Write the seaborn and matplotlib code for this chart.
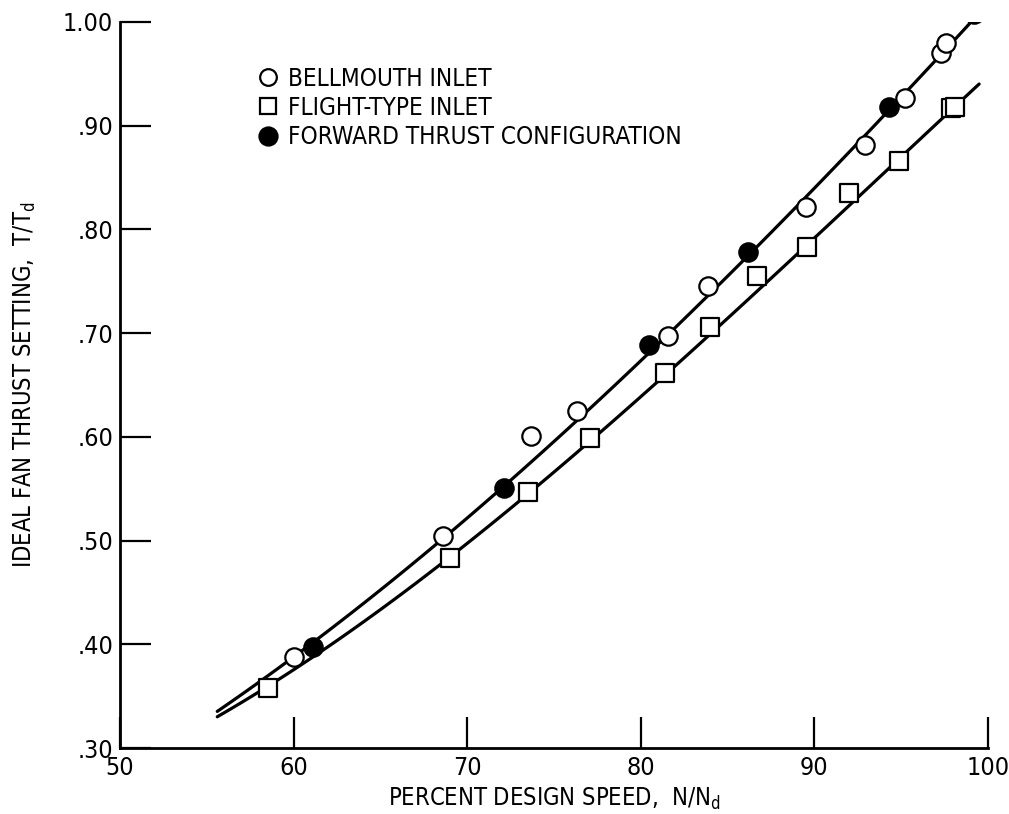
import matplotlib
matplotlib.use("Agg")
import matplotlib.pyplot as plt
from matplotlib import font_manager as fm
from matplotlib.lines import Line2D
import seaborn as sns

sns.set_theme(style="ticks")

# Pick a narrow sans face if one is available
_fonts = fm.fontManager.ttflist
_names = {f.name for f in _fonts}
if "Liberation Sans Narrow" in _names:
    plt.rcParams["font.family"] = ["Liberation Sans Narrow", "DejaVu Sans"]
elif any(f.name == "DejaVu Sans" and "condensed" in str(f.stretch) for f in _fonts):
    plt.rcParams["font.family"] = ["DejaVu Sans"]
    plt.rcParams["font.stretch"] = "condensed"
else:
    plt.rcParams["font.family"] = ["Liberation Sans", "DejaVu Sans"]
plt.rcParams["text.color"] = "black"
plt.rcParams["axes.labelcolor"] = "black"

# Measured points: percent design speed vs ideal fan thrust setting
bell_x = [60.0, 68.6, 73.7, 76.3, 81.6, 83.9, 89.5, 92.9, 95.2, 97.3, 97.6]
bell_y = [0.388, 0.504, 0.601, 0.625, 0.697, 0.745, 0.822, 0.881, 0.927, 0.970, 0.980]

flight_x = [58.5, 69.0, 73.5, 77.1, 81.4, 84.0, 86.7, 89.6, 92.0, 94.9, 97.9, 98.1]
flight_y = [0.358, 0.483, 0.547, 0.599, 0.662, 0.706, 0.755, 0.783, 0.835, 0.866, 0.917, 0.918]

fwd_x = [61.1, 72.1, 80.5, 86.2, 94.3, 99.2]
fwd_y = [0.397, 0.551, 0.689, 0.778, 0.918, 1.008]

# Faired curves through the data
upper_x = [55.6, 60, 65, 70, 75, 80, 85, 90, 95, 99.2]
upper_y = [0.338, 0.386, 0.450, 0.518, 0.597, 0.681, 0.760, 0.830, 0.923, 1.008]

lower_x = [55.6, 60, 65, 70, 75, 80, 85, 90, 95, 99.5]
lower_y = [0.330, 0.376, 0.435, 0.493, 0.567, 0.640, 0.717, 0.790, 0.867, 0.942]

labels = ["BELLMOUTH INLET", "FLIGHT-TYPE INLET", "FORWARD THRUST CONFIGURATION"]
x_ticks = [50, 60, 70, 80, 90, 100]
y_ticks = [0.30, 0.40, 0.50, 0.60, 0.70, 0.80, 0.90, 1.00]
y_tick_labels = [".30", ".40", ".50", ".60", ".70", ".80", ".90", "1.00"]

fig = plt.figure(figsize=(10.09, 8.14), dpi=100)
ax = fig.add_axes([0.119, 0.081, 0.860, 0.892])

# Smooth faired curves (cubic fit over each curve's own extent)
line_kw = dict(order=3, ci=None, scatter=False, truncate=True, ax=ax,
               line_kws=dict(color="black", lw=2.3, zorder=2))
sns.regplot(x=upper_x, y=upper_y, **line_kw)
sns.regplot(x=lower_x, y=lower_y, **line_kw)

marker_kw = dict(s=175, edgecolor="black", linewidth=1.6, zorder=3, ax=ax, legend=False)
sns.scatterplot(x=bell_x, y=bell_y, marker="o", color="white", **marker_kw)
sns.scatterplot(x=flight_x, y=flight_y, marker="s", color="white", **marker_kw)
sns.scatterplot(x=fwd_x, y=fwd_y, marker="o", color="black", **marker_kw)

ax.set_xlim(50, 100)
ax.set_ylim(0.30, 1.00)
ax.set_xticks(x_ticks)
ax.set_yticks(y_ticks)
ax.set_yticklabels(y_tick_labels)
ax.tick_params(axis="both", direction="in", length=22, width=1.6,
               labelsize=18, colors="black", pad=5)
ax.tick_params(axis="x", pad=6)
for side in ("top", "right"):
    ax.spines[side].set_visible(False)
for side in ("left", "bottom"):
    ax.spines[side].set_linewidth(2.0)
    ax.spines[side].set_color("black")

ax.set_xlabel("PERCENT DESIGN SPEED,  N/N$_{\\mathregular{d}}$", fontsize=17,
              labelpad=4)
ax.set_ylabel("IDEAL FAN THRUST SETTING,  T/T$_{\\mathregular{d}}$", fontsize=17,
              labelpad=18)

handles = [
    Line2D([], [], ls="none", marker="o", ms=12, mfc="white", mec="black", mew=1.6),
    Line2D([], [], ls="none", marker="s", ms=12, mfc="white", mec="black", mew=1.6),
    Line2D([], [], ls="none", marker="o", ms=13, mfc="black", mec="black", mew=1.6),
]
ax.legend(handles, labels, loc="upper left", bbox_to_anchor=(0.145, 0.952),
          frameon=False, fontsize=17.5, handletextpad=0.35, labelspacing=0.22,
          handlelength=1.0, borderaxespad=0)

fig.savefig("out.png", dpi=100)
